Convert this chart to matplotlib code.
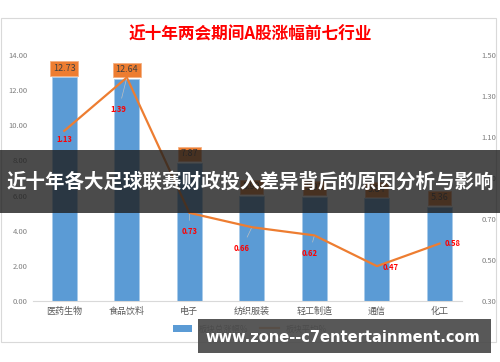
import matplotlib
matplotlib.use("Agg")
import matplotlib.pyplot as plt
from matplotlib.patches import Rectangle, Patch
from matplotlib.lines import Line2D

plt.rcParams['font.family'] = ['Noto Sans CJK SC', 'DejaVu Sans']

# dados
industrias = ["医药生物", "食品饮料", "电子", "纺织服装", "轻工制造", "通信", "化工"]
total = [12.73, 12.64, 7.87, 5.99, 5.93, 5.84, 5.36]
media = [1.13, 1.39, 0.73, 0.66, 0.62, 0.47, 0.58]
# deslocamento dos rotulos da linha (pixels)
desloc = [(0, -9), (-8, -32), (0, -19), (-10, -21), (-5, -18), (14, -1), (13, 0)]

azul = "#5B9BD5"
laranja = "#ED7D31"

fig = plt.figure(figsize=(5, 3.62), dpi=100)
fig.patch.set_facecolor("white")

# moldura do grafico
fig.add_artist(Rectangle((0.002, 1 - 342/362), 0.99, (342 - 18)/362, transform=fig.transFigure,
                         facecolor="white", edgecolor="#D9D9D9", linewidth=0.8, zorder=-5))

ax = fig.add_axes([33/500, 1 - 301/362, (462 - 33)/500, (301 - 55)/362])
ax.patch.set_alpha(0)
x = list(range(len(industrias)))
barras = ax.bar(x, total, width=0.4, color=azul, edgecolor="#A9CBEA", linewidth=0.6)
ax.set_xlim(-0.5, 6.36)
ax.set_ylim(0, 14)
ax.set_yticks([0, 2, 4, 6, 8, 10, 12, 14])
ax.set_yticklabels(["{:.2f}".format(v) for v in ax.get_yticks()], fontsize=5.5, color="#7F7F7F")
ax.set_xticks(x)
ax.set_xticklabels(industrias, fontsize=6.5, color="#595959")
ax.tick_params(length=0, pad=4)
for lado in ["top", "right", "left"]:
    ax.spines[lado].set_visible(False)
ax.spines["bottom"].set_color("#D9D9D9")

for xi, v in zip(x, total):
    ax.annotate("{:.2f}".format(v), (xi, v), xytext=(0, 9), textcoords="offset pixels",
                ha="center", va="center", fontsize=6.5, color="#404040",
                bbox=dict(boxstyle="square,pad=0.3", facecolor=laranja, edgecolor="#F4B183", linewidth=0.6))

ax2 = ax.twinx()
ax2.plot(x, media, color=laranja, linewidth=1.6)
ax2.set_ylim(0.3, 1.5)
ax2.set_yticks([0.3, 0.5, 0.7, 0.9, 1.1, 1.3, 1.5])
ax2.set_yticklabels(["{:.2f}".format(v) for v in ax2.get_yticks()], fontsize=5.5, color="#7F7F7F")
ax2.tick_params(length=0, pad=14)
for lado in ["top", "right", "left", "bottom"]:
    ax2.spines[lado].set_visible(False)

for xi, v, d in zip(x, media, desloc):
    seta = None
    if abs(d[1]) > 15:
        seta = dict(arrowstyle="-", color="#BFBFBF", linewidth=0.5, shrinkA=3, shrinkB=1)
    ax2.annotate("{:.2f}".format(v), (xi, v), xytext=d, textcoords="offset pixels",
                 ha="center", va="center", fontsize=5.5, color="#FF0000", fontweight="bold",
                 arrowprops=seta)

fig.text(0.5, 1 - 35/362, "近十年两会期间A股涨幅前七行业", ha="center", va="center",
         fontsize=12, color="#FF0000", fontweight="bold")

fig.legend([Patch(facecolor=azul), Line2D([0], [0], color=laranja, linewidth=1.6)],
           ["板块总涨幅%", "板块平均%"], loc="center", bbox_to_anchor=(0.5, 1 - 329/362),
           ncol=2, frameon=False, fontsize=6, labelcolor="#595959",
           handlelength=2.2, handleheight=0.8, columnspacing=1.5)

# faixa escura com titulo sobreposto
fig.add_artist(Rectangle((0, 1 - 213/362), 1, 63/362, transform=fig.transFigure,
                         facecolor="#1e1e1e", alpha=0.8, edgecolor="none", zorder=10))
fig.text(0.5, 1 - 182/362, "近十年各大足球联赛财政投入差异背后的原因分析与影响", ha="center", va="center",
         fontsize=14, color="white", fontweight="bold", zorder=11)

# marca do site
fig.add_artist(Rectangle((198/500, 1 - 353/362), 293/500, 34/362, transform=fig.transFigure,
                         facecolor="#4a4a4a", alpha=0.92, edgecolor="none", zorder=10))
fig.text(343/500, 1 - 337/362, "www.zone--c7entertainment.com", ha="center", va="center",
         fontsize=10.5, color="white", fontweight="bold", family=["DejaVu Sans"], zorder=11)

fig.savefig("out.png", dpi=100)
